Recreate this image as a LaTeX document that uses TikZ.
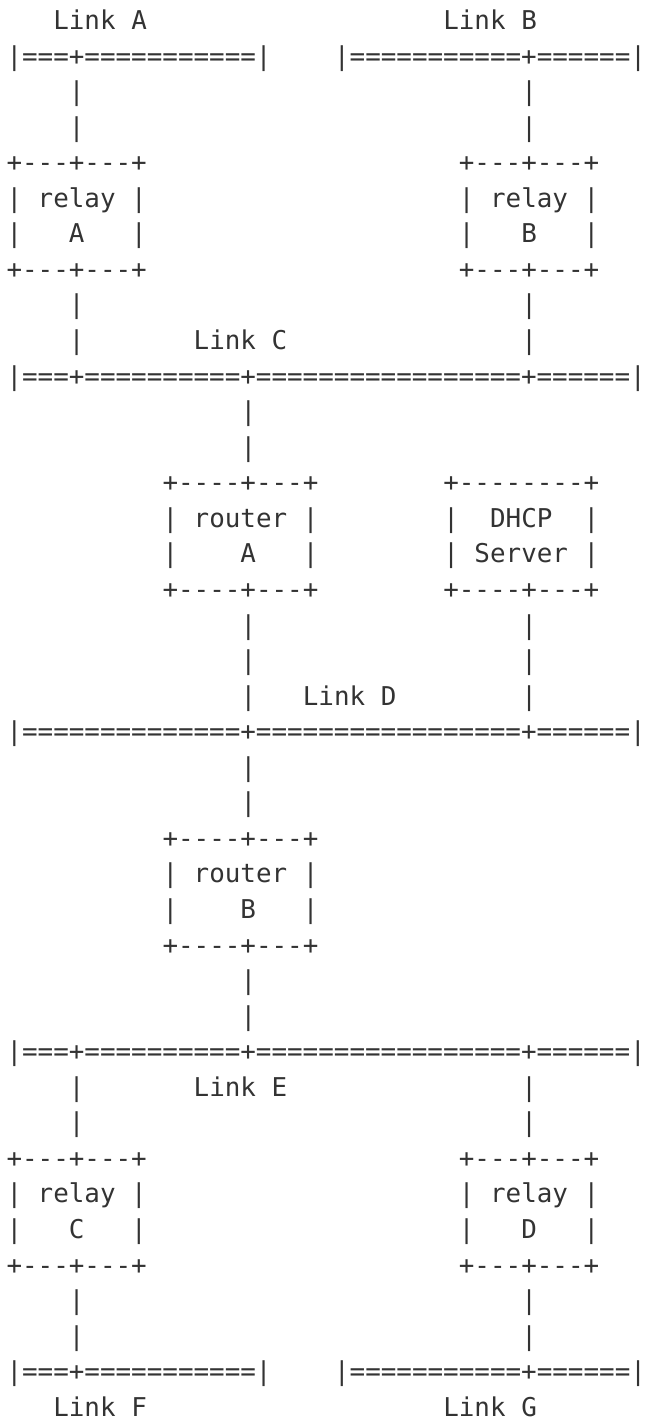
\documentclass[tikz,border=0pt]{standalone}
\usepackage{fontspec}
\setmonofont{DejaVu Sans Mono}
\usepackage{tikz}
\definecolor{ink}{HTML}{333333}
\tikzset{ascii/.style={anchor=base west, inner sep=0pt, outer sep=0pt, text=ink,
    font=\ttfamily\fontsize{25.9pt}{35.56pt}\selectfont}}

\begin{document}
\begin{tikzpicture}[x=15.6pt, y=-35.56pt, every node/.style={ascii}]
    \useasboundingbox (-0.417, -0.830) rectangle (40.994, 39.300);
    %% links A and B
    \draw (3, 0) node(linkA){Link A} ;
    \draw (28, 0) node(linkB){Link B} ;
    \draw (0, 1) node(busA){|===+===========|} ;
    \draw (21, 1) node(busB){|===========+======|} ;
    \draw (4, 2) node(pA1){|} ;
    \draw (33, 2) node(pB1){|} ;
    \draw (4, 3) node(pA2){|} ;
    \draw (33, 3) node(pB2){|} ;
    %% relays A and B
    \draw (0, 4) node(relayAtop){+---+---+} ;
    \draw (29, 4) node(relayBtop){+---+---+} ;
    \draw (0, 5) node(relayA){| relay |} ;
    \draw (29, 5) node(relayB){| relay |} ;
    \draw (0, 6) node(relayAname){|~~~A~~~|} ;
    \draw (29, 6) node(relayBname){|~~~B~~~|} ;
    \draw (0, 7) node(relayAbot){+---+---+} ;
    \draw (29, 7) node(relayBbot){+---+---+} ;
    \draw (4, 8) node(pA3){|} ;
    \draw (33, 8) node(pB3){|} ;
    \draw (4, 9) node(pA4){|} ;
    \draw (33, 9) node(pB4){|} ;
    %% link C
    \draw (12, 9) node(linkC){Link C} ;
    \draw (0, 10) node(busC){|===+==========+=================+======|} ;
    \draw (15, 11) node(pC1){|} ;
    \draw (15, 12) node(pC2){|} ;
    %% router A and DHCP server
    \draw (10, 13) node(routerAtop){+----+---+} ;
    \draw (28, 13) node(dhcpTop){+--------+} ;
    \draw (10, 14) node(routerA){| router |} ;
    \draw (28, 14) node(dhcp){|~~DHCP~~|} ;
    \draw (10, 15) node(routerAname){|~~~~A~~~|} ;
    \draw (28, 15) node(dhcpName){| Server |} ;
    \draw (10, 16) node(routerAbot){+----+---+} ;
    \draw (28, 16) node(dhcpBot){+----+---+} ;
    \draw (15, 17) node(pRA1){|} ;
    \draw (33, 17) node(pS1){|} ;
    \draw (15, 18) node(pRA2){|} ;
    \draw (33, 18) node(pS2){|} ;
    \draw (15, 19) node(pRA3){|} ;
    \draw (33, 19) node(pS3){|} ;
    %% link D
    \draw (19, 19) node(linkD){Link D} ;
    \draw (0, 20) node(busD){|==============+=================+======|} ;
    \draw (15, 21) node(pD1){|} ;
    \draw (15, 22) node(pD2){|} ;
    %% router B
    \draw (10, 23) node(routerBtop){+----+---+} ;
    \draw (10, 24) node(routerB){| router |} ;
    \draw (10, 25) node(routerBname){|~~~~B~~~|} ;
    \draw (10, 26) node(routerBbot){+----+---+} ;
    \draw (15, 27) node(pRB1){|} ;
    \draw (15, 28) node(pRB2){|} ;
    %% link E
    \draw (0, 29) node(busE){|===+==========+=================+======|} ;
    \draw (12, 30) node(linkE){Link E} ;
    \draw (4, 30) node(pE1){|} ;
    \draw (33, 30) node(pE2){|} ;
    \draw (4, 31) node(pE3){|} ;
    \draw (33, 31) node(pE4){|} ;
    %% relays C and D
    \draw (0, 32) node(relayCtop){+---+---+} ;
    \draw (29, 32) node(relayDtop){+---+---+} ;
    \draw (0, 33) node(relayC){| relay |} ;
    \draw (29, 33) node(relayD){| relay |} ;
    \draw (0, 34) node(relayCname){|~~~C~~~|} ;
    \draw (29, 34) node(relayDname){|~~~D~~~|} ;
    \draw (0, 35) node(relayCbot){+---+---+} ;
    \draw (29, 35) node(relayDbot){+---+---+} ;
    \draw (4, 36) node(pC3){|} ;
    \draw (33, 36) node(pD3){|} ;
    \draw (4, 37) node(pC4){|} ;
    \draw (33, 37) node(pD4){|} ;
    %% links F and G
    \draw (0, 38) node(busF){|===+===========|} ;
    \draw (21, 38) node(busG){|===========+======|} ;
    \draw (3, 39) node(linkF){Link F} ;
    \draw (28, 39) node(linkG){Link G} ;
\end{tikzpicture}
\end{document}
